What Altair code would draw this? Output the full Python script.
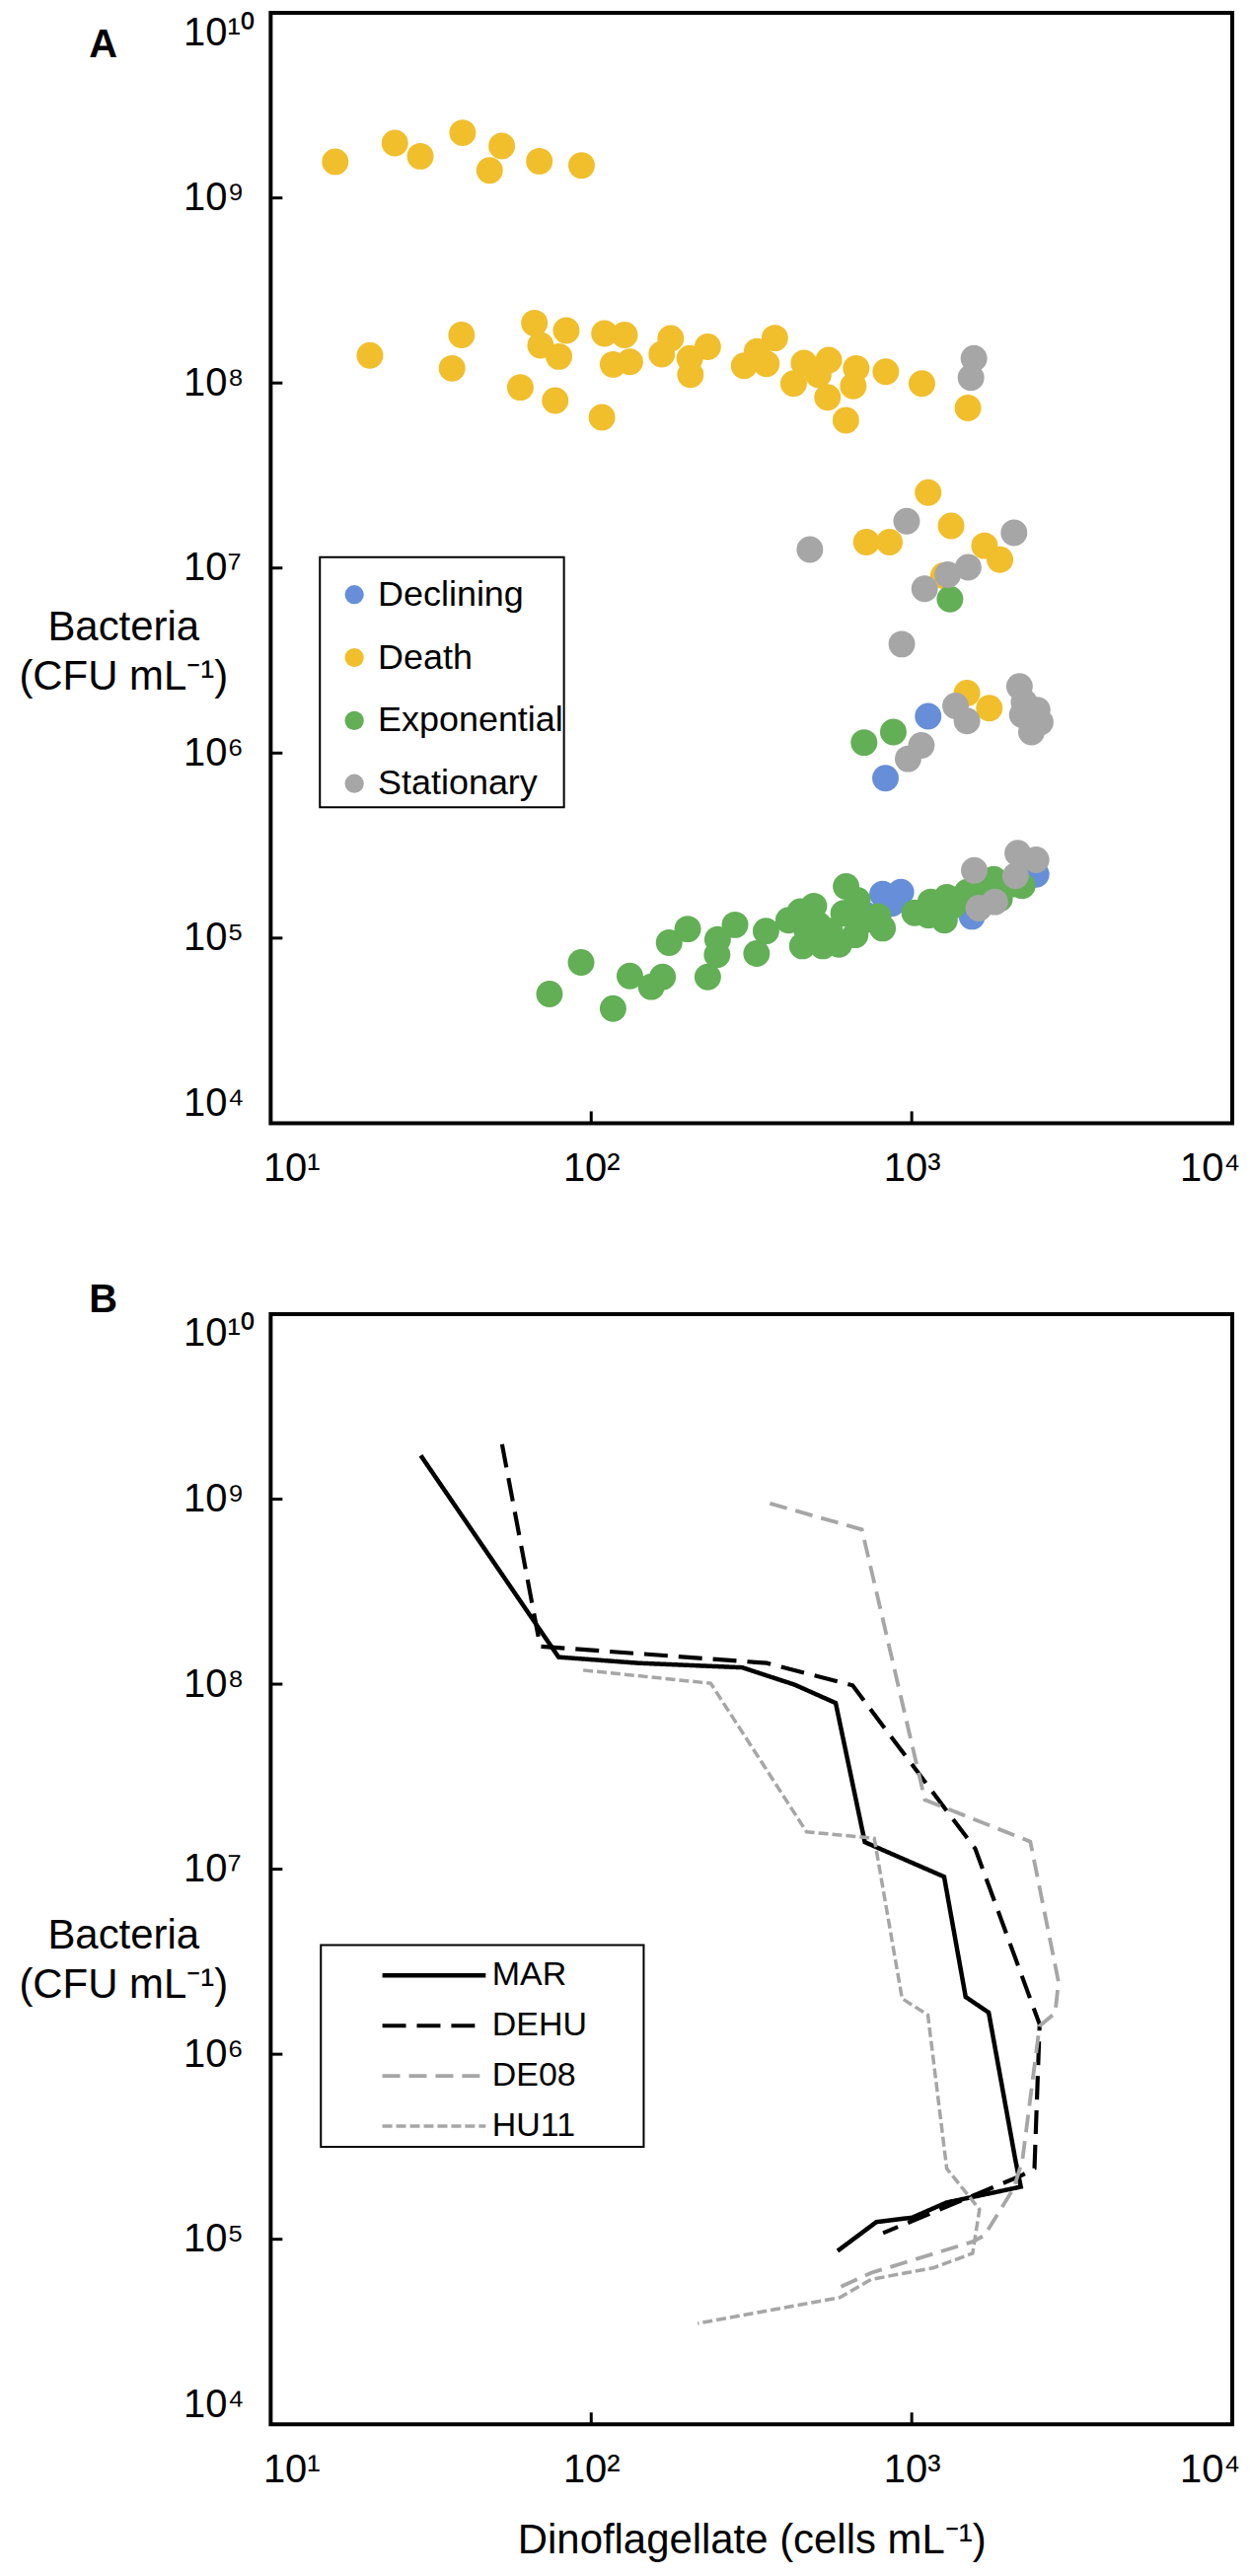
import altair as alt
import pandas as pd

FONT = "Liberation Sans"

# ---------------- Panel A data (cells mL-1, CFU mL-1) ----------------
declining_x = [811, 925, 866, 723, 1541, 2325, 2443, 1125, 828]
declining_y = [1.73e5, 1.77e5, 1.54e5, 1.33e5, 1.31e5, 2.17e5, 2.21e5, 1.58e6, 7.31e5]

death_x = [15.9, 24.4, 29.3, 39.7, 52.6, 48.2, 68.9, 93.3,
           20.4, 39.4, 36.8, 66.5, 69.5, 83.6, 79.3, 60.1, 77.2, 108, 110, 127, 117, 132,
           177, 166, 231, 203, 204, 374, 329, 300, 352, 461, 551, 428, 511, 546, 671, 657,
           623, 830, 1076, 1497,
           1125, 1327, 722, 852, 1687, 1885, 1257, 1487, 1746]
death_y = [1.57e9, 1.98e9, 1.68e9, 2.25e9, 1.91e9, 1.41e9, 1.58e9, 1.50e9,
           1.41e8, 1.82e8, 1.20e8, 2.11e8, 1.60e8, 1.92e8, 1.39e8, 9.47e7, 8.04e7, 6.52e7, 1.85e8, 1.82e8, 1.26e8, 1.30e8,
           1.74e8, 1.43e8, 1.57e8, 1.36e8, 1.11e8, 1.75e8, 1.48e8, 1.24e8, 1.27e8, 1.28e8, 1.33e8, 9.94e7, 1.11e8, 8.37e7, 1.20e8, 9.64e7,
           6.29e7, 1.15e8, 9.94e7, 7.33e7,
           2.56e7, 1.69e7, 1.38e7, 1.38e7, 1.32e7, 1.11e7, 9.1e6, 2.11e6, 1.75e6]

exponential_x = [74.1, 93.0, 117, 132, 154, 167, 175, 200, 231, 247, 248, 281, 328, 351, 413, 449,
                 495, 456, 528, 511, 593, 613, 624, 666, 677, 785, 811, 1021, 1146, 1265, 1286, 1490,
                 1803, 2212, 555, 471, 700, 1128, 1349, 1591, 1879, 2075,
                 710, 876, 1316]
exponential_y = [4.99e4, 7.39e4, 4.16e4, 6.24e4, 5.46e4, 6.17e4, 9.44e4, 1.12e5, 6.17e4, 8.12e4, 9.83e4, 1.18e5, 8.26e4, 1.09e5, 1.25e5, 1.39e5,
                 1.49e5, 9.06e4, 9.06e4, 1.18e5, 9.25e4, 1.36e5, 1.90e5, 1.04e5, 1.60e5, 1.31e5, 1.13e5, 1.37e5, 1.57e5, 1.25e5, 1.66e5, 1.77e5,
                 2.08e5, 1.92e5, 1.09e5, 1.09e5, 1.23e5, 1.33e5, 1.50e5, 1.92e5, 1.63e5, 1.96e5,
                 1.14e6, 1.30e6, 6.79e6]

stationary_x = [1563, 1530, 964, 2085, 481, 1295, 1500, 1097, 931, 2169, 1370, 1487, 2240, 2462,
                2518, 2213, 2363, 1072, 974, 1567, 2142, 2443, 2108, 1619, 1816]
stationary_y = [1.36e8, 1.07e8, 1.79e7, 1.55e7, 1.26e7, 9.2e6, 1.01e7, 7.73e6, 3.88e6, 2.29e6, 1.80e6, 1.49e6, 1.89e6, 1.71e6,
                1.47e6, 1.61e6, 1.30e6, 1.10e6, 9.31e5, 2.32e5, 2.88e5, 2.65e5, 2.17e5, 1.45e5, 1.57e5]

phases = ["Declining", "Death", "Exponential", "Stationary"]
phase_colors = ["#678ED8", "#F1BE2C", "#62AF56", "#A6A6A6"]

# ---------------- Panel B data ----------------
mar_x = [29.4, 79.1, 140, 296, 431, 579, 714, 1262, 1473, 1738, 2107, 2189, 1285, 1004, 776, 587]
mar_y = [1.72e9, 1.40e8, 1.30e8, 1.23e8, 9.93e7, 7.91e7, 1.40e7, 9.1e6, 2.04e6, 1.68e6, 2.67e5, 1.92e5, 1.58e5, 1.31e5, 1.24e5, 8.65e4]
dehu_x = [52.7, 69.3, 353, 654, 1578, 2506, 2415, 2187, 814]
dehu_y = [1.98e9, 1.60e8, 1.30e8, 9.84e7, 1.29e7, 1.45e6, 2.42e5, 2.20e5, 1.08e5]
de08_x = [361, 699, 1099, 2344, 2871, 2801, 2505, 2214, 2082, 1687, 1549, 747, 577]
de08_y = [9.48e8, 6.85e8, 2.37e7, 1.41e7, 2.45e6, 1.67e6, 1.42e6, 2.67e5, 1.89e5, 1.05e5, 9.7e4, 6.58e4, 5.37e4]
hu11_x = [94.4, 236, 470, 764, 933, 1123, 1286, 1627, 1549, 1166, 747, 598, 215]
hu11_y = [1.19e8, 1.01e8, 1.59e7, 1.47e7, 2.0e6, 1.63e6, 2.41e5, 1.45e5, 8.4e4, 7.0e4, 6.07e4, 4.85e4, 3.51e4]

series = ["MAR", "DEHU", "DE08", "HU11"]
series_colors = ["#000000", "#000000", "#A6A6A6", "#A6A6A6"]
series_dash = [[1, 0], [24, 11], [18, 9], [10, 4]]
series_width = [4.5, 3.5, 3.5, 3.2]

# ---------------- Axes ----------------
x_ticks = [10, 100, 1000, 10000]
x_tick_labels = ["10¹", "10²", "10³", "10⁴"]
y_ticks = [1e4, 1e5, 1e6, 1e7, 1e8, 1e9, 1e10]
y_tick_labels = ["10⁴", "10⁵", "10⁶", "10⁷", "10⁸", "10⁹", "10¹⁰"]
x_inner = [100, 1000]
y_inner = [1e5, 1e6, 1e7, 1e8, 1e9]

W, H = 977, 1128
TICK = 12


def label_expr(labels, first_exp):
    arr = "[" + ",".join("'%s'" % s for s in labels) + "]"
    return "%s[round(log(datum.value)/LN10) - %d]" % (arr, first_exp)


xscale = alt.Scale(type="log", domain=[10, 10000], nice=False)
yscale = alt.Scale(type="log", domain=[1e4, 1e10], nice=False)


def x_axis(title=""):
    return alt.Axis(values=x_ticks, labelExpr=label_expr(x_tick_labels, 1), labelFont=FONT,
                    labelFontSize=40, labelColor="black", labelPadding=26, labelFlush=True,
                    labelFlushOffset=8, ticks=False, tickSize=0, domain=False, grid=False,
                    title=title, titleFont=FONT, titleFontSize=42, titleFontWeight="normal",
                    titleColor="black", titleBaseline="alphabetic", titleY=131)


def y_axis(title_y):
    return alt.Axis(values=y_ticks, labelExpr=label_expr(y_tick_labels, 4), labelFont=FONT,
                    labelFontSize=40, labelColor="black", labelAlign="left",
                    labelPadding=89, labelFlush=True, ticks=False, tickSize=0, domain=False, grid=False,
                    title=["Bacteria", "(CFU mL⁻¹)"], titleFont=FONT, titleFontSize=42,
                    titleFontWeight="normal", titleColor="black", titleAngle=0, titleAlign="center",
                    titleBaseline="alphabetic", titleX=-150, titleY=title_y, titleLineHeight=50)


def inner_ticks(xtitle, title_y):
    xt = alt.Chart(pd.DataFrame({"x": x_inner})).mark_rule(color="black", strokeWidth=3).encode(
        x=alt.X("x:Q", scale=xscale, axis=x_axis(xtitle)),
        y=alt.value(H), y2=alt.value(H - TICK))
    yt = alt.Chart(pd.DataFrame({"y": y_inner})).mark_rule(color="black", strokeWidth=3).encode(
        y=alt.Y("y:Q", scale=yscale, axis=y_axis(title_y)),
        x=alt.value(0), x2=alt.value(TICK))
    return xt, yt


def panel_letter(letter, ypos):
    return alt.Chart(pd.DataFrame({"t": [letter]})).mark_text(
        font=FONT, fontSize=40, fontWeight="bold", align="center", baseline="alphabetic",
        color="black").encode(text="t:N", x=alt.value(-170), y=alt.value(ypos))


def box(x1, x2, y1, y2):
    return alt.Chart(pd.DataFrame({"b": [0]})).mark_rect(
        fillOpacity=0, stroke="black", strokeWidth=2).encode(
        x=alt.value(x1), x2=alt.value(x2), y=alt.value(y1), y2=alt.value(y2))


# ---------------- Panel A ----------------
rows = []
for name, xs, ys in [("Declining", declining_x, declining_y), ("Death", death_x, death_y),
                     ("Exponential", exponential_x, exponential_y),
                     ("Stationary", stationary_x, stationary_y)]:
    for xv, yv in zip(xs, ys):
        rows.append({"x": xv, "y": yv, "phase": name})
dfA = pd.DataFrame(rows)

TY_A = 637
legendA = alt.Legend(title=None, orient="none", legendX=67, legendY=573, labelFont=FONT,
                     labelFontSize=36, labelColor="black", labelLimit=500, symbolType="circle",
                     symbolSize=372, symbolStrokeWidth=0, symbolOpacity=1, rowPadding=28,
                     labelOffset=6, padding=0)

pointsA = alt.Chart(dfA).mark_circle(size=729, opacity=1).encode(
    x=alt.X("x:Q", scale=xscale, axis=x_axis()),
    y=alt.Y("y:Q", scale=yscale, axis=y_axis(TY_A)),
    color=alt.Color("phase:N", scale=alt.Scale(domain=phases, range=phase_colors), legend=legendA),
)
xtA, ytA = inner_ticks("", TY_A)
panelA = alt.layer(pointsA, xtA, ytA, box(50, 298, 553, 807), panel_letter("A", 45)).properties(
    width=W, height=H)

# ---------------- Panel B ----------------
rows = []
for name, xs, ys in [("MAR", mar_x, mar_y), ("DEHU", dehu_x, dehu_y),
                     ("DE08", de08_x, de08_y), ("HU11", hu11_x, hu11_y)]:
    for i, (xv, yv) in enumerate(zip(xs, ys)):
        rows.append({"x": xv, "y": yv, "series": name, "idx": i})
dfB = pd.DataFrame(rows)

TY_B = 644
XTITLE = "Dinoflagellate (cells mL⁻¹)"
# wide horizontal line symbol: path spans 10 units, scaled by sqrt(size)/2 -> 105 px
legendB = alt.Legend(title=None, orient="none", legendX=107, legendY=655, labelFont=FONT,
                     labelFontSize=34, labelColor="black", labelLimit=500,
                     symbolType="M-5,0L5,0", symbolSize=441, symbolStrokeWidth=3.5,
                     symbolOffset=42, rowPadding=17, labelOffset=42, padding=0)

linesB = alt.Chart(dfB).mark_line().encode(
    x=alt.X("x:Q", scale=xscale, axis=x_axis(XTITLE)),
    y=alt.Y("y:Q", scale=yscale, axis=y_axis(TY_B)),
    color=alt.Color("series:N", scale=alt.Scale(domain=series, range=series_colors), legend=legendB),
    strokeDash=alt.StrokeDash("series:N", scale=alt.Scale(domain=series, range=series_dash),
                              legend=legendB),
    strokeWidth=alt.StrokeWidth("series:N", scale=alt.Scale(domain=series, range=series_width),
                                legend=None),
    order=alt.Order("idx:Q"),
    detail="series:N",
)
xtB, ytB = inner_ticks(XTITLE, TY_B)
panelB = alt.layer(linesB, xtB, ytB, box(51, 379, 641, 846), panel_letter("B", -2)).properties(
    width=W, height=H)

chart = alt.vconcat(panelA, panelB, spacing=90).resolve_scale(
    color="independent", strokeDash="independent", strokeWidth="independent"
).resolve_legend(
    color="independent", strokeDash="independent"
).properties(
    padding={"left": 8, "top": 0, "right": 0, "bottom": 0}
).configure(font=FONT).configure_view(stroke="black", strokeWidth=4)

chart.save("out.html", embed_options={"renderer": "svg", "actions": False})
